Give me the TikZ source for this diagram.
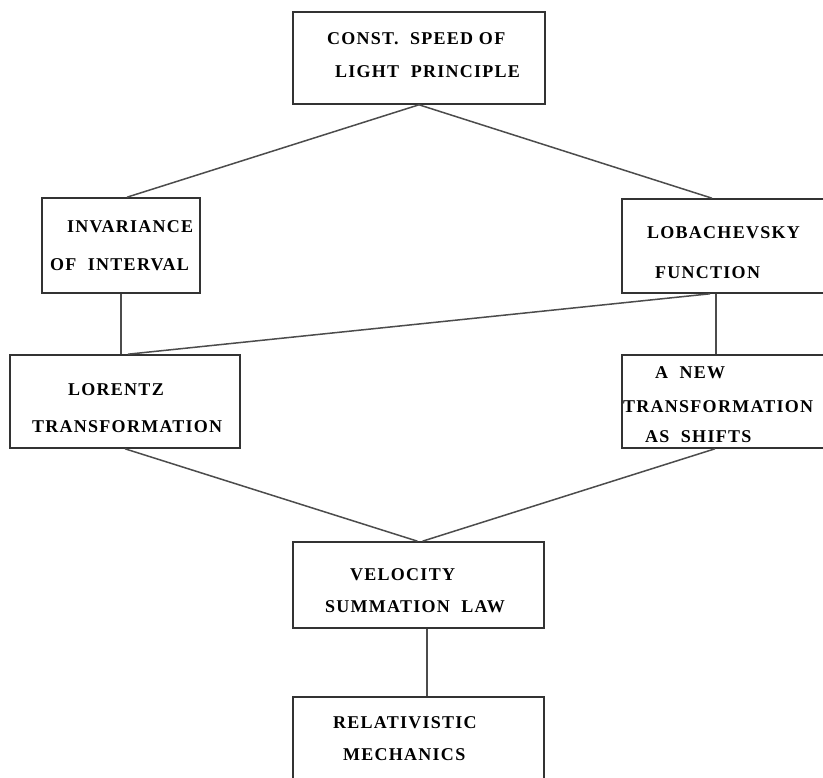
\documentclass[tikz,border=0pt]{standalone}
\usepackage{fontspec}
\setmainfont{Liberation Serif}
\newfontfamily\boxfont[LetterSpace=7]{Liberation Serif}
\usetikzlibrary{calc}
\begin{document}
\begin{tikzpicture}[x=1pt,y=-1pt,
  box/.style={draw=black!80, line width=1.6pt, inner sep=0pt, fill=none},
  conn/.style={draw=black!70, line width=1.5pt},
  lbl/.style={anchor=west, inner sep=0pt, font=\boxfont\fontsize{18}{20}\selectfont\bfseries}]
\useasboundingbox (0,0) rectangle (823,778);
\fill[white] (0,0) rectangle (823,778);
\clip (0,0) rectangle (823,778);
% boxes
\node[box, minimum width=252, minimum height=92] (top) at (419,58) {};
\node[box, minimum width=158, minimum height=95] (inv) at (121,245.5) {};
\node[box, minimum width=218, minimum height=94] (lob) at (731,246) {};
\node[box, minimum width=230, minimum height=93] (lor) at (125,401.5) {};
\node[box, minimum width=218, minimum height=93] (new) at (731,401.5) {};
\node[box, minimum width=251, minimum height=86] (vel) at (418.5,585) {};
\node[box, minimum width=251, minimum height=110] (rel) at (418.5,752) {};
% texts
\node[lbl] (t1) at (327,39) {CONST.\ \ SPEED OF};
\node[lbl] (t2) at (335,72) {LIGHT\ \ PRINCIPLE};
\node[lbl] (i1) at (67,227) {INVARIANCE};
\node[lbl] (i2) at (50,265) {OF\ \ INTERVAL};
\node[lbl] (b1) at (647,233) {LOBACHEVSKY};
\node[lbl] (b2) at (655,273) {FUNCTION};
\node[lbl] (l1) at (68,390) {LORENTZ};
\node[lbl] (l2) at (32,427) {TRANSFORMATION};
\node[lbl] (n1) at (655,373) {A\ \ NEW};
\node[lbl] (n2) at (623,407) {TRANSFORMATION};
\node[lbl] (n3) at (645,437) {AS\ \ SHIFTS};
\node[lbl] (v1) at (350,575) {VELOCITY};
\node[lbl] (v2) at (325,607) {SUMMATION\ \ LAW};
\node[lbl] (r1) at (333,723) {RELATIVISTIC};
\node[lbl] (r2) at (343,755) {MECHANICS};
% connectors
\draw[conn] (top.south) -- ($(inv.north)+(6,0)$);
\draw[conn] (top.south) -- ($(lob.north)+(-19,0)$);
\draw[conn] (inv.south) -- (inv.south |- lor.north);
\draw[conn] ($(lob.south)+(-21,0)$) -- ($(lor.north)+(3,0)$);
\draw[conn] ($(lob.south)+(-15,0)$) -- ($(new.north)+(-15,0)$);
\draw[conn] (lor.south) -- ($(vel.north)+(-1,0)$);
\draw[conn] ($(new.south)+(-16,0)$) -- ($(vel.north)+(4,0)$);
\draw[conn] ($(vel.south)+(8.5,0)$) -- ($(rel.north)+(8.5,0)$);
\end{tikzpicture}
\end{document}
